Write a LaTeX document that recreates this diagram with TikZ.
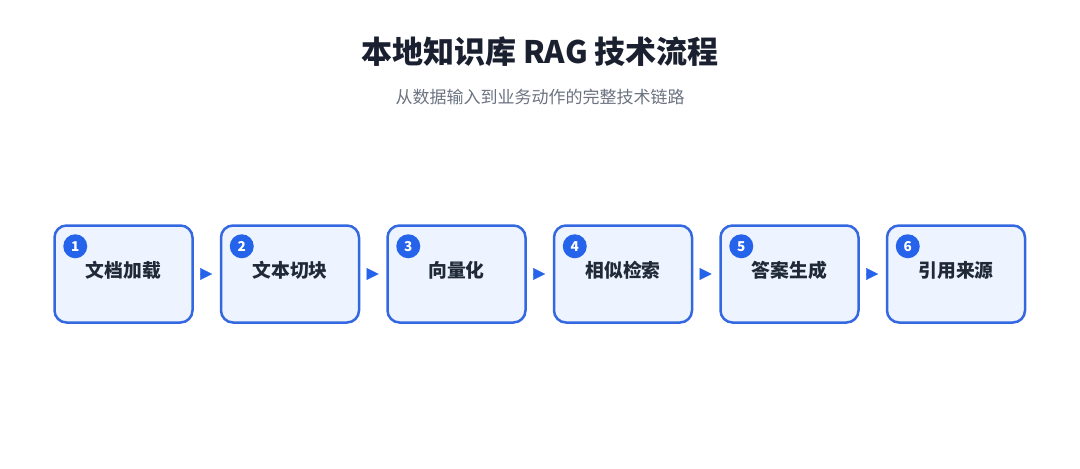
\documentclass[tikz,border=0pt]{standalone}
\usepackage{fontspec}
\setmainfont{Noto Sans CJK SC}
\usetikzlibrary{arrows.meta, positioning}
\definecolor{flowblue}{HTML}{3468E0}
\definecolor{badgeblue}{HTML}{2563EB}
\definecolor{boxfill}{HTML}{EEF4FF}
\definecolor{titlegray}{HTML}{1B2030}
\definecolor{subgray}{HTML}{6B7280}
\definecolor{labelgray}{HTML}{1F2937}

\begin{document}
\begin{tikzpicture}[x=0.5pt, y=0.5pt,
  stepbox/.style={draw=flowblue, fill=boxfill, line width=1.25pt, rounded corners=6pt,
    minimum width=69pt, minimum height=48.5pt, font=\bfseries\fontsize{9.4}{11}\selectfont,
    text=labelgray, text height=8pt, text depth=4.5pt},
  badge/.style={circle, fill=badgeblue, text=white, minimum size=12pt, inner sep=0pt,
    font=\bfseries\fontsize{6.8}{8}\selectfont},
  flow/.style={-{Triangle[length=6pt, width=6pt]}, draw=badgeblue, line width=0.1pt,
    shorten <=3.2pt, shorten >=3.8pt}]
  \useasboundingbox (0,0) rectangle (1080,468);
  % title
  \node[font=\bfseries\fontsize{15.5}{18}\selectfont, text=titlegray] (title) at (540,416) {本地知识库 RAG 技术流程};
  \node[font=\fontsize{8.5}{10}\selectfont, text=subgray] (subtitle) at (540,371) {从数据输入到业务动作的完整技术链路};
  % steps
  \node[stepbox] (s1) at (123.5,194) {文档加载};
  \node[stepbox, right=13pt of s1] (s2) {文本切块};
  \node[stepbox, right=13pt of s2] (s3) {向量化};
  \node[stepbox, right=13pt of s3] (s4) {相似检索};
  \node[stepbox, right=13pt of s4] (s5) {答案生成};
  \node[stepbox, right=13pt of s5] (s6) {引用来源};
  % badges and arrows
  \foreach \i in {1,...,6}
    \node[badge] (b\i) at ([xshift=11pt, yshift=-11pt]s\i.north west) {\i};
  \foreach \i/\j in {1/2, 2/3, 3/4, 4/5, 5/6}
    \draw[flow] (s\i.east) -- (s\j.west);
\end{tikzpicture}
\end{document}
